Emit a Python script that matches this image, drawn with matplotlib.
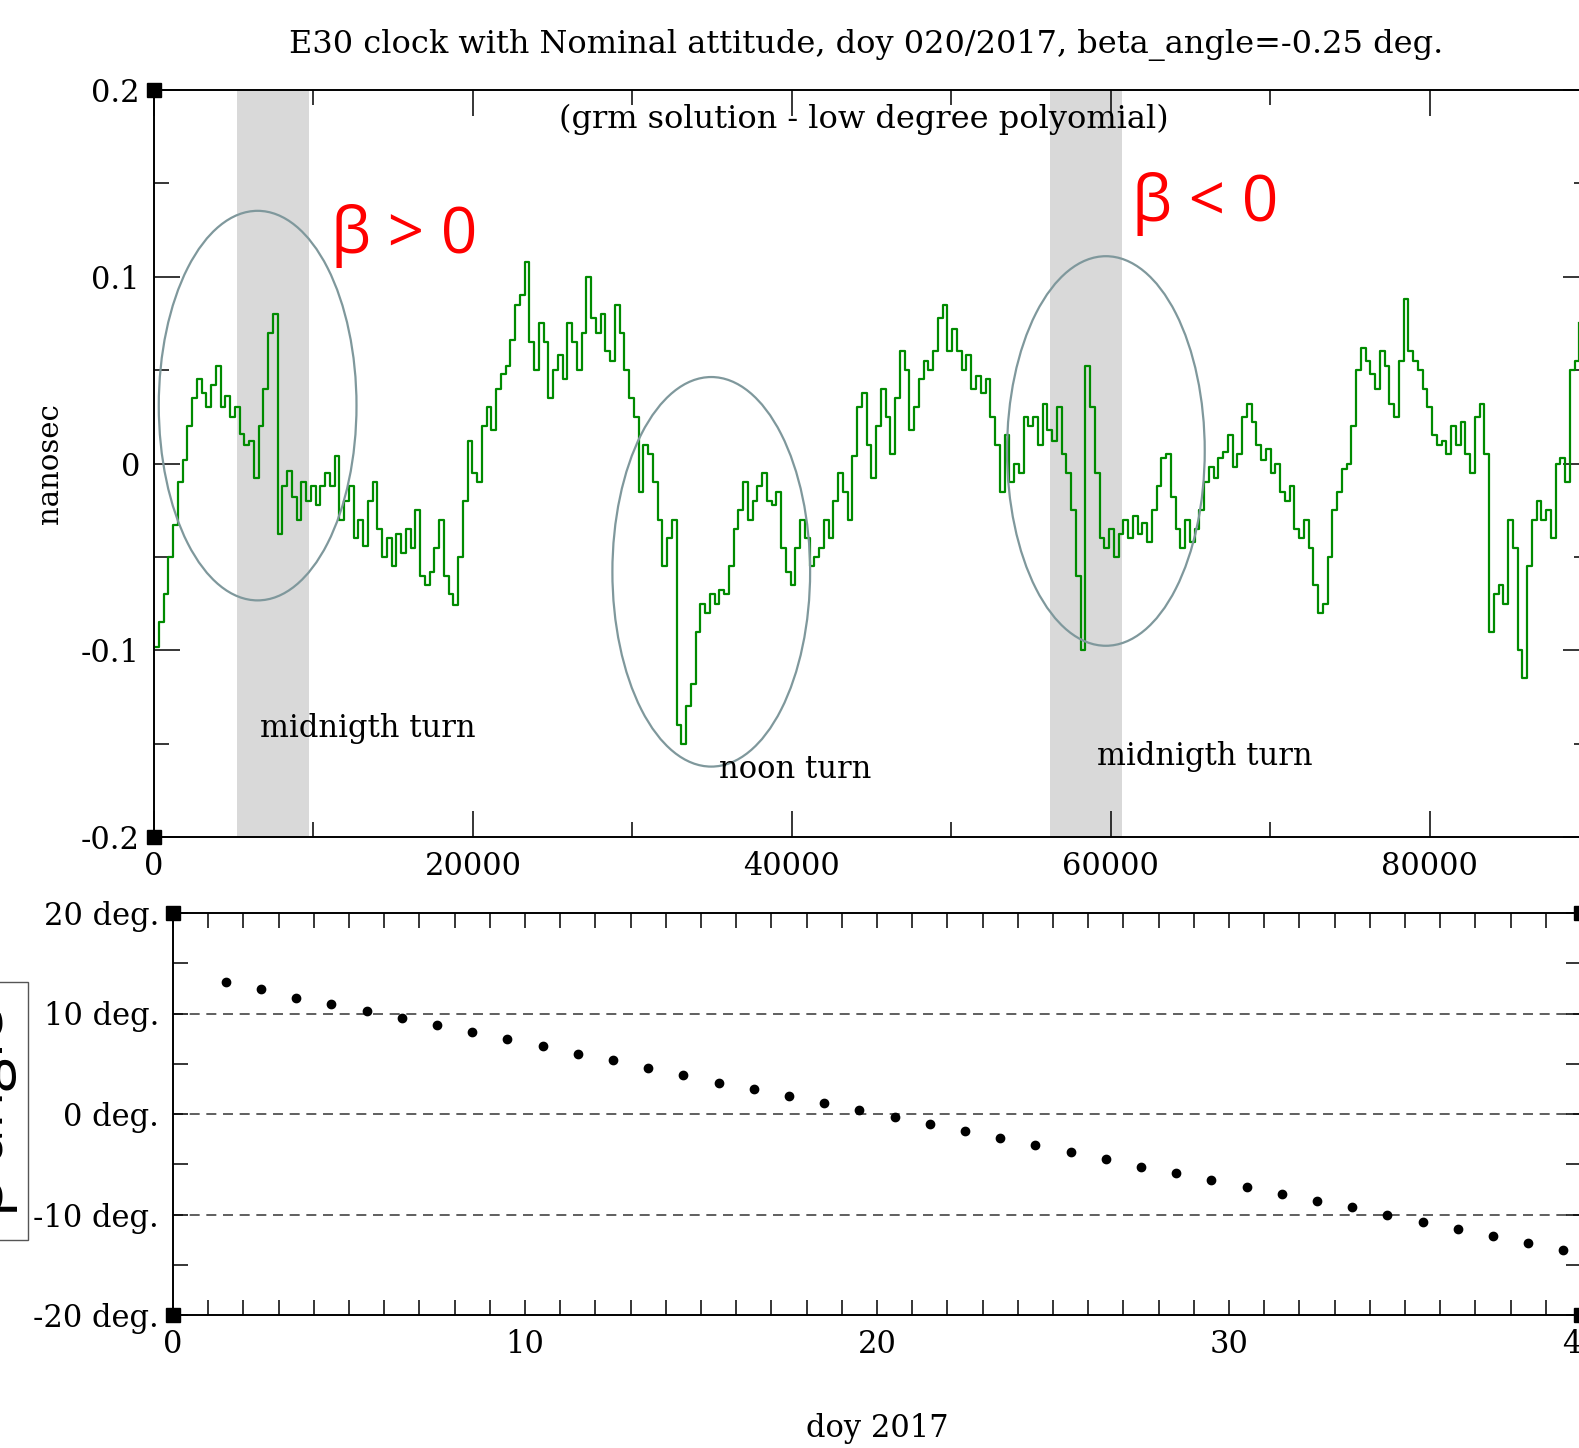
import matplotlib.pyplot as plt
import matplotlib
import numpy as np
from matplotlib.patches import Ellipse, Rectangle

matplotlib.rcParams['font.family'] = 'DejaVu Serif'
matplotlib.rcParams['font.size'] = 22

# clock residual (ns), one value every 298 s of the day
clk = [
    -0.098, -0.085, -0.07, -0.05, -0.033, -0.01, 0.002, 0.02, 0.035, 0.045,
    0.038, 0.03, 0.042, 0.052, 0.03, 0.036, 0.025, 0.03, 0.016, 0.01,
    0.012, -0.008, 0.02, 0.04, 0.07, 0.08, -0.038, -0.012, -0.004, -0.018,
    -0.03, -0.01, -0.02, -0.012, -0.022, -0.012, -0.005, -0.012, 0.004, -0.03,
    -0.02, -0.012, -0.04, -0.03, -0.044, -0.02, -0.01, -0.035, -0.05, -0.04,
    -0.055, -0.038, -0.048, -0.035, -0.045, -0.025, -0.06, -0.065, -0.058, -0.045,
    -0.03, -0.06, -0.07, -0.076, -0.05, -0.02, 0.012, -0.005, -0.01, 0.02,
    0.03, 0.018, 0.04, 0.048, 0.052, 0.066, 0.085, 0.09, 0.108, 0.065,
    0.05, 0.075, 0.065, 0.035, 0.05, 0.058, 0.045, 0.075, 0.065, 0.05,
    0.07, 0.1, 0.078, 0.07, 0.08, 0.06, 0.055, 0.085, 0.07, 0.05,
    0.035, 0.025, -0.015, 0.01, 0.005, -0.01, -0.03, -0.055, -0.04, -0.03,
    -0.14, -0.15, -0.13, -0.118, -0.09, -0.075, -0.08, -0.07, -0.075, -0.068,
    -0.07, -0.055, -0.035, -0.025, -0.01, -0.03, -0.02, -0.012, -0.005, -0.02,
    -0.022, -0.015, -0.045, -0.058, -0.065, -0.045, -0.03, -0.04, -0.055, -0.05,
    -0.045, -0.03, -0.04, -0.02, -0.005, -0.015, -0.03, 0.004, 0.03, 0.038,
    0.01, -0.008, 0.02, 0.04, 0.025, 0.005, 0.035, 0.06, 0.05, 0.018,
    0.03, 0.045, 0.055, 0.05, 0.06, 0.078, 0.085, 0.06, 0.072, 0.06,
    0.05, 0.058, 0.04, 0.047, 0.038, 0.045, 0.025, 0.01, -0.015, 0.015,
    -0.01, 0.0, -0.005, 0.025, 0.02, 0.025, 0.01, 0.032, 0.018, 0.012,
    0.03, 0.005, -0.005, -0.025, -0.06, -0.1, 0.052, 0.03, -0.005, -0.04,
    -0.045, -0.035, -0.05, -0.038, -0.03, -0.04, -0.028, -0.038, -0.032, -0.042,
    -0.025, -0.012, 0.003, 0.005, -0.018, -0.035, -0.045, -0.03, -0.042, -0.035,
    -0.025, -0.01, -0.002, -0.008, 0.003, 0.006, 0.015, -0.002, 0.005, 0.025,
    0.032, 0.022, 0.01, 0.002, 0.008, -0.005, 0.0, -0.015, -0.02, -0.012,
    -0.035, -0.04, -0.03, -0.045, -0.065, -0.08, -0.075, -0.05, -0.025, -0.015,
    -0.003, 0.0, 0.02, 0.05, 0.062, 0.055, 0.048, 0.04, 0.06, 0.052,
    0.032, 0.025, 0.055, 0.088, 0.06, 0.055, 0.05, 0.04, 0.03, 0.015,
    0.01, 0.012, 0.005, 0.02, 0.01, 0.022, 0.005, -0.005, 0.025, 0.032,
    0.005, -0.09, -0.07, -0.065, -0.075, -0.03, -0.045, -0.1, -0.115, -0.055,
    -0.03, -0.02, -0.03, -0.025, -0.04, 0.0, 0.003, -0.01, 0.05, 0.055,
    0.075,
]
t_sec = np.arange(len(clk)) * 298

# beta angle per day of year
doy = [1.5, 2.5, 3.5, 4.5, 5.5, 6.5, 7.5, 8.5, 9.5, 10.5, 11.5, 12.5, 13.5,
       14.5, 15.5, 16.5, 17.5, 18.5, 19.5, 20.5, 21.5, 22.5, 23.5, 24.5, 25.5,
       26.5, 27.5, 28.5, 29.5, 30.5, 31.5, 32.5, 33.5, 34.5, 35.5, 36.5, 37.5,
       38.5, 39.5]
beta = [13.1, 12.4, 11.5, 10.9, 10.25, 9.55, 8.85, 8.15, 7.45, 6.75, 5.95, 5.35,
        4.6, 3.9, 3.1, 2.5, 1.8, 1.1, 0.4, -0.3, -1.0, -1.7, -2.4, -3.1, -3.8,
        -4.5, -5.3, -5.9, -6.6, -7.3, -8.0, -8.7, -9.3, -10.0, -10.75, -11.45,
        -12.15, -12.85, -13.55]

W, H = 1579, 1448
fig = plt.figure(figsize=(W / 100, H / 100), dpi=100)

# ---- top panel (right edge runs just past the picture)
ax1 = fig.add_axes([154 / W, (H - 837) / H, (1589 - 154) / W, (837 - 90) / H])
ax1.axvspan(5200, 9700, color='#d9d9d9', lw=0, zorder=0)
ax1.axvspan(56200, 60700, color='#d9d9d9', lw=0, zorder=0)
ax1.step(t_sec, clk, where='post', color='#008b00', lw=1.6, zorder=2)

for cx, cy in [(6500, 0.031), (34950, -0.058), (59700, 0.0067)]:
    ax1.add_patch(Ellipse((cx, cy), 12400, 0.2086, fill=False,
                          ec='#7f989c', lw=1.6, zorder=3))

ax1.text(13400, -0.142, 'midnigth turn', ha='center', va='center', fontsize=22)
ax1.text(40200, -0.164, 'noon turn', ha='center', va='center', fontsize=22)
ax1.text(65900, -0.157, 'midnigth turn', ha='center', va='center', fontsize=22)
ax1.text(44500, 0.184, '(grm solution - low degree polyomial)', ha='center',
         va='center', fontsize=23)
ax1.text(15700, 0.122, 'β > 0', color='red', ha='center', va='center',
         fontsize=46, family=['Open Sans', 'DejaVu Sans'])
ax1.text(65950, 0.139, 'β < 0', color='red', ha='center', va='center',
         fontsize=46, family=['Open Sans', 'DejaVu Sans'])

ax1.set_xlim(0, 90000)
ax1.set_ylim(-0.2, 0.2)
ax1.set_xticks(np.arange(0, 90001, 20000))
ax1.set_xticks(np.arange(10000, 90001, 20000), minor=True)
ax1.set_yticks([-0.2, -0.1, 0, 0.1, 0.2])
ax1.set_yticklabels(['-0.2', '-0.1', '0', '0.1', '0.2'])
ax1.set_yticks([-0.15, -0.05, 0.05, 0.15], minor=True)
ax1.tick_params(which='both', direction='in', top=True, right=True, width=1.1,
                labelsize=22)
ax1.tick_params(which='major', length=19, pad=10)
ax1.tick_params(which='minor', length=11)
ax1.set_ylabel('nanosec', fontsize=21, labelpad=12)
for s in ax1.spines.values():
    s.set_linewidth(1.4)
ax1.plot([0, 0], [0, 1], 's', color='k', ms=10, transform=ax1.transAxes,
         clip_on=False, zorder=5)

# ---- bottom panel
ax2 = fig.add_axes([173 / W, (H - 1315) / H, (1581 - 173) / W, (1315 - 913) / H])
for yv in [10, 0, -10]:
    ax2.axhline(yv, color='#444444', lw=1.2, ls=(0, (6, 4)), zorder=1)
ax2.plot(doy, beta, 'o', color='k', ms=6, zorder=3)
ax2.set_xlim(0, 40)
ax2.set_ylim(-20, 20)
ax2.set_xticks([0, 10, 20, 30, 40])
ax2.set_xticks(np.arange(0, 41, 1), minor=True)
ax2.set_yticks([-20, -10, 0, 10, 20])
ax2.set_yticklabels(['-20 deg.', '-10 deg.', '0 deg.', '10 deg.', '20 deg.'])
ax2.set_yticks([-15, -5, 5, 15], minor=True)
ax2.tick_params(which='both', direction='in', top=True, right=True, width=1.1,
                length=11, labelsize=22)
ax2.tick_params(which='major', pad=10)
ax2.set_xlabel('doy 2017', fontsize=22, labelpad=38)
for s in ax2.spines.values():
    s.set_linewidth(1.4)
ax2.plot([0, 0, 1, 1], [0, 1, 0, 1], 's', color='k', ms=10,
         transform=ax2.transAxes, clip_on=False, zorder=5)

# boxed, cropped beta label on the far left
fig.add_artist(Rectangle((-0.05, (H - 1240) / H), 28 / W + 0.05, (1240 - 982) / H,
                         transform=fig.transFigure, fill=False, ec='#555555',
                         lw=1.0))
fig.text(18 / W, (H - 1112) / H, 'β angle', rotation=90, ha='right',
         va='center', fontsize=44, family=['Open Sans', 'DejaVu Sans'])

fig.text(866 / W, (H - 45) / H,
         'E30 clock with Nominal attitude, doy 020/2017, beta_angle=-0.25 deg.',
         ha='center', va='center', fontsize=23)

plt.savefig('out.png', dpi=100)
